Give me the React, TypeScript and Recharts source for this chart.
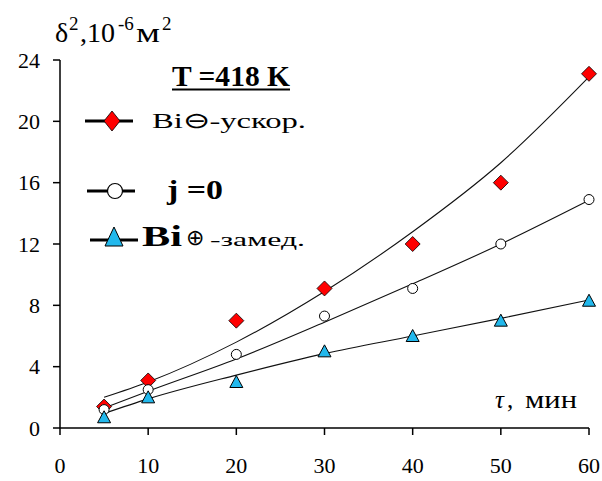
import React from "react";
import { ComposedChart, Line, XAxis, YAxis } from "recharts";

// Time, minutes
const T_MIN = [5, 10, 20, 30, 40, 50, 60];

// Measured δ², 10^-6 m²
const ACCEL = [1.4, 3.1, 7.0, 9.1, 12.0, 16.0, 23.1]; // Bi ⊖ (accelerating)
const ZERO = [1.2, 2.5, 4.8, 7.3, 9.1, 12.0, 14.9]; // j = 0
const DECEL = [0.7, 2.0, 3.0, 5.0, 6.0, 7.0, 8.3]; // Bi ⊕ (decelerating)

// Smoothed trend curves through the same time points
const ACCEL_FIT = [2.0, 3.0, 5.6, 8.9, 12.8, 17.3, 22.9];
const ZERO_FIT = [1.3, 2.4, 4.5, 6.9, 9.4, 12.0, 14.85];
const DECEL_FIT = [0.95, 1.9, 3.45, 4.85, 6.0, 7.15, 8.35];

const X_TICKS = [0, 10, 20, 30, 40, 50, 60];
const Y_TICKS = [0, 4, 8, 12, 16, 20, 24];

const rows = T_MIN.map((t, i) => ({
  t,
  accel: ACCEL[i],
  zero: ZERO[i],
  decel: DECEL[i],
  accelFit: ACCEL_FIT[i],
  zeroFit: ZERO_FIT[i],
  decelFit: DECEL_FIT[i],
}));

const FF = "Liberation Serif";
const RED = "#FF0000";
const CYAN = "#22B8EC";

// Serif type for every label in the figure
const FONT_CSS = `.fig text, .fig tspan { font-family: 'Liberation Serif', serif !important; }`;

const Diamond = (p: any) => {
  const { cx, cy, index } = p;
  if (cx == null || cy == null) return <g key={`d${index}`} />;
  const r = 7.5;
  return (
    <path
      key={`d${index}`}
      d={`M${cx},${cy - r}L${cx + r},${cy}L${cx},${cy + r}L${cx - r},${cy}Z`}
      fill={RED}
      stroke="#000"
      strokeWidth={0.8}
    />
  );
};

const Ring = (p: any) => {
  const { cx, cy, index } = p;
  if (cx == null || cy == null) return <g key={`c${index}`} />;
  return <circle key={`c${index}`} cx={cx} cy={cy} r={5} fill="#fff" stroke="#000" strokeWidth={1} />;
};

const Tri = (p: any) => {
  const { cx, cy, index } = p;
  if (cx == null || cy == null) return <g key={`t${index}`} />;
  const h = 11;
  const w = 6.5;
  return (
    <path
      key={`t${index}`}
      d={`M${cx},${cy - h / 2 - 1}L${cx + w},${cy + h / 2}L${cx - w},${cy + h / 2}Z`}
      fill={CYAN}
      stroke="#000"
      strokeWidth={1}
    />
  );
};

const XTick = (p: any) => (
  <text x={p.x} y={p.y + 38} textAnchor="middle" fontFamily={FF} fontSize={22} fill="#000">
    {p.payload.value}
  </text>
);

const YTick = (p: any) => (
  <text x={p.x} y={p.y} dy="0.35em" textAnchor="end" fontFamily={FF} fontSize={22} fill="#000">
    {p.payload.value}
  </text>
);

const Annotations = () => (
  <svg
    width={602}
    height={481}
    fontFamily={FF}
    style={{ position: "absolute", left: 0, top: 0, pointerEvents: "none" }}
  >
    {/* y-axis title */}
    <text x={55} y={42} fontSize={28} fill="#000">δ</text>
    <text x={69} y={30} fontSize={19} fill="#000">2</text>
    <text x={80} y={42} fontSize={28} fill="#000">,10</text>
    <text x={118} y={30} fontSize={19} fill="#000">-6</text>
    <text x={136} y={42} fontSize={28} fill="#000" textLength={24} lengthAdjust="spacingAndGlyphs">м</text>
    <text x={162} y={30} fontSize={19} fill="#000">2</text>

    {/* temperature caption */}
    <text x={172} y={86} fontSize={29} fontWeight="bold" fill="#000" textLength={118} lengthAdjust="spacingAndGlyphs">
      T =418 K
    </text>
    <line x1={172} x2={290} y1={89.5} y2={89.5} stroke="#000" strokeWidth={2} />

    {/* legend: accelerating */}
    <line x1={85} x2={133} y1={121} y2={121} stroke="#000" strokeWidth={3} />
    <path d="M112,111L120,121L112,131L104,121Z" fill={RED} stroke="#000" strokeWidth={0.8} />
    <text x={152} y={128} fontSize={22} fill="#000" textLength={154} lengthAdjust="spacingAndGlyphs">
      Bi⊖-ускор.
    </text>

    {/* legend: j = 0 */}
    <line x1={87} x2={135} y1={191} y2={191} stroke="#000" strokeWidth={3} />
    <circle cx={115} cy={191} r={7.5} fill="#fff" stroke="#000" strokeWidth={1.2} />
    <text x={167} y={199} fontSize={27} fontWeight="bold" fill="#000" textLength={56} lengthAdjust="spacingAndGlyphs">
      j =0
    </text>

    {/* legend: decelerating */}
    <line x1={90} x2={138} y1={240} y2={240} stroke="#000" strokeWidth={3} />
    <path d="M114,227L123,246L105,246Z" fill={CYAN} stroke="#000" strokeWidth={1} />
    <text x={142} y={246} fontSize={29} fontWeight="bold" fill="#000" textLength={40} lengthAdjust="spacingAndGlyphs">
      Bi
    </text>
    <text x={186} y={245} fontSize={22} fill="#000">⊕</text>
    <text x={210} y={246} fontSize={19} fill="#000" textLength={95} lengthAdjust="spacingAndGlyphs">
      -замед.
    </text>

    {/* x-axis title */}
    <text x={495} y={408} fontSize={25} fontStyle="italic" fill="#000">τ</text>
    <text x={507} y={408} fontSize={25} fill="#000">,</text>
    <text x={525} y={408} fontSize={25} fill="#000" textLength={52} lengthAdjust="spacingAndGlyphs">мин</text>
  </svg>
);

export default function App() {
  return (
    <div
      className="fig"
      style={{ position: "absolute", left: 0, top: 0, width: 602, height: 481, background: "#fff", fontFamily: FF }}
    >
      <style>{FONT_CSS}</style>
      <ComposedChart
        width={602}
        height={481}
        data={rows}
        margin={{ top: 60, right: 13, bottom: 23, left: 0 }}
      >
        <XAxis
          dataKey="t"
          type="number"
          domain={[0, 60]}
          ticks={X_TICKS}
          interval={0}
          tickSize={7}
          tickMargin={0}
          height={30}
          axisLine={{ stroke: "#000", strokeWidth: 1.5 }}
          tickLine={{ stroke: "#000", strokeWidth: 1.5 }}
          tick={XTick}
        />
        <YAxis
          type="number"
          domain={[0, 24]}
          ticks={Y_TICKS}
          interval={0}
          width={60}
          tickSize={7}
          tickMargin={13}
          axisLine={{ stroke: "#000", strokeWidth: 1.5 }}
          tickLine={{ stroke: "#000", strokeWidth: 1.5 }}
          tick={YTick}
        />
        <Line dataKey="accelFit" type="monotone" stroke="#111" strokeWidth={1.1} dot={false} activeDot={false} isAnimationActive={false} />
        <Line dataKey="zeroFit" type="monotone" stroke="#111" strokeWidth={1.1} dot={false} activeDot={false} isAnimationActive={false} />
        <Line dataKey="decelFit" type="monotone" stroke="#111" strokeWidth={1.1} dot={false} activeDot={false} isAnimationActive={false} />
        <Line dataKey="accel" stroke="none" dot={Diamond} activeDot={false} isAnimationActive={false} />
        <Line dataKey="zero" stroke="none" dot={Ring} activeDot={false} isAnimationActive={false} />
        <Line dataKey="decel" stroke="none" dot={Tri} activeDot={false} isAnimationActive={false} />
      </ComposedChart>
      <Annotations />
    </div>
  );
}
